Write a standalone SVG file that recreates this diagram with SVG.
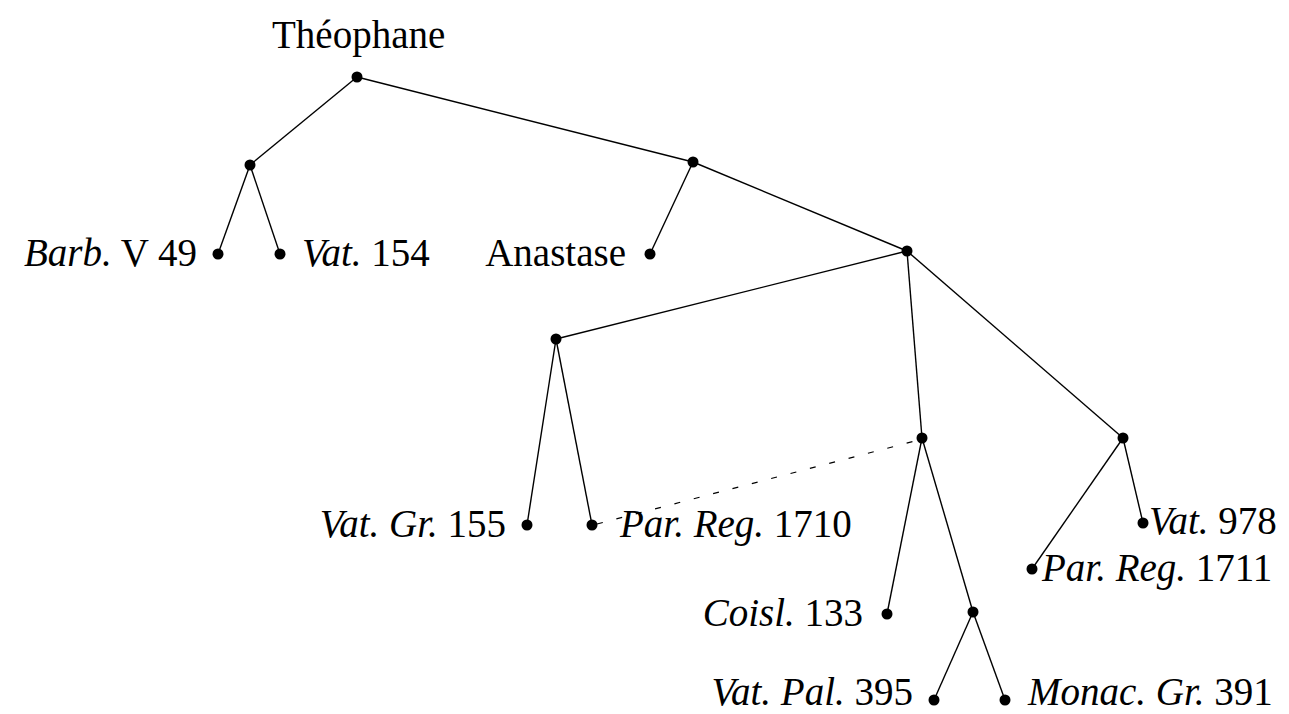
<svg xmlns="http://www.w3.org/2000/svg" width="1289" height="714" viewBox="0 0 1289 714">
<style>
.e{stroke:#000;stroke-width:1.4;fill:none}
.d{stroke:#000;stroke-width:1.2;fill:none;stroke-dasharray:6 14}
.n{fill:#000}
text{font-family:"Liberation Serif","Times New Roman",serif;font-size:39px;fill:#000}
.i{font-style:italic}
.r{text-anchor:end}
</style>
<rect width="1289" height="714" fill="#fff"/>
<g id="connectors">
<line class="e" x1="357" y1="77" x2="250" y2="165"/>
<line class="e" x1="357" y1="77" x2="693" y2="162"/>
<line class="e" x1="250" y1="165" x2="218" y2="254"/>
<line class="e" x1="250" y1="165" x2="280" y2="254"/>
<line class="e" x1="693" y1="162" x2="650" y2="254"/>
<line class="e" x1="693" y1="162" x2="907" y2="251"/>
<line class="e" x1="907" y1="251" x2="556" y2="339"/>
<line class="e" x1="907" y1="251" x2="922" y2="438"/>
<line class="e" x1="907" y1="251" x2="1123" y2="438"/>
<line class="e" x1="556" y1="339" x2="527" y2="525"/>
<line class="e" x1="556" y1="339" x2="592" y2="525"/>
<line class="e" x1="922" y1="438" x2="887" y2="614"/>
<line class="e" x1="922" y1="438" x2="973" y2="612"/>
<line class="e" x1="973" y1="612" x2="934" y2="700"/>
<line class="e" x1="973" y1="612" x2="1005" y2="700"/>
<line class="e" x1="1123" y1="438" x2="1143" y2="523"/>
<line class="e" x1="1123" y1="438" x2="1032" y2="569"/>
<line class="d" x1="597" y1="524" x2="915" y2="441"/>
</g>
<g id="theophane"><circle class="n" cx="357" cy="77" r="5.5"/><text x="272" y="48">Théophane</text></g>
<g id="n-a"><circle class="n" cx="250" cy="165" r="5.5"/></g>
<g id="barb"><circle class="n" cx="218" cy="254" r="5.5"/><text class="r" x="197" y="266"><tspan class="i">Barb.</tspan> V 49</text></g>
<g id="vat154"><circle class="n" cx="280" cy="254" r="5.5"/><text x="302" y="266"><tspan class="i">Vat.</tspan> 154</text></g>
<g id="n-b"><circle class="n" cx="693" cy="162" r="5.5"/></g>
<g id="anastase"><circle class="n" cx="650" cy="254" r="5.5"/><text class="r" x="626" y="266">Anastase</text></g>
<g id="n-c"><circle class="n" cx="907" cy="251" r="5.5"/></g>
<g id="n-d"><circle class="n" cx="556" cy="339" r="5.5"/></g>
<g id="vatgr155"><circle class="n" cx="527" cy="525" r="5.5"/><text class="r" x="506" y="537"><tspan class="i">Vat. Gr.</tspan> 155</text></g>
<g id="parreg1710"><circle class="n" cx="592" cy="525" r="5.5"/><text x="620" y="537"><tspan class="i">Par. Reg.</tspan> 1710</text></g>
<g id="n-e"><circle class="n" cx="922" cy="438" r="5.5"/></g>
<g id="coisl133"><circle class="n" cx="887" cy="614" r="5.5"/><text class="r" x="863" y="626"><tspan class="i">Coisl.</tspan> 133</text></g>
<g id="n-f"><circle class="n" cx="973" cy="612" r="5.5"/></g>
<g id="vatpal395"><circle class="n" cx="934" cy="700" r="5.5"/><text class="r" x="913" y="705"><tspan class="i">Vat. Pal.</tspan> 395</text></g>
<g id="monac391"><circle class="n" cx="1005" cy="700" r="5.5"/><text x="1028" y="705"><tspan class="i">Monac. Gr.</tspan> 391</text></g>
<g id="n-g"><circle class="n" cx="1123" cy="438" r="5.5"/></g>
<g id="vat978"><circle class="n" cx="1143" cy="523" r="5.5"/><text x="1149" y="534"><tspan class="i">Vat.</tspan> 978</text></g>
<g id="parreg1711"><circle class="n" cx="1032" cy="569" r="5.5"/><text x="1042" y="581"><tspan class="i">Par. Reg.</tspan> 1711</text></g>
</svg>
